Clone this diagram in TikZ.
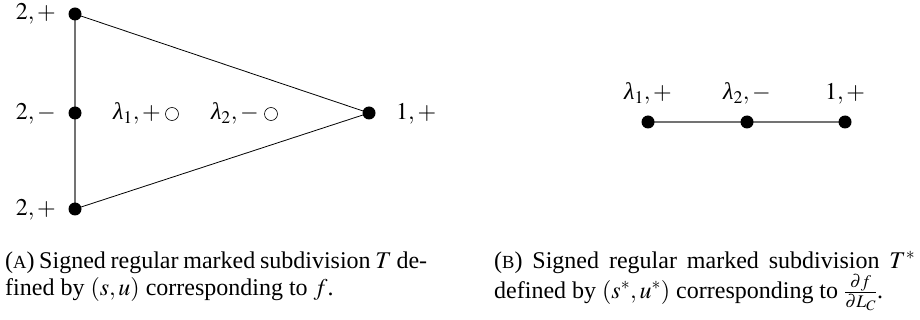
\documentclass[tikz,border=0pt]{standalone}
\usepackage{mathptmx}
\usepackage[no-math]{fontspec}
\setmainfont{Liberation Serif}
\newcommand{\lam}{\mbox{\itshape λ}}
\begin{document}
\begin{tikzpicture}[x=1pt,y=-1pt,
  dot/.style={circle,fill=black,inner sep=0pt,minimum size=13pt},
  odot/.style={circle,draw=black,line width=0.6pt,fill=white,inner sep=0pt,minimum size=13pt},
  lbl/.style={inner sep=0pt,font=\fontsize{24}{28}\selectfont},
  capnode/.style={inner sep=0pt,anchor=base west,font=\fontsize{24}{28}\selectfont},
  grayedge/.style={draw=black!55,line width=1.3pt},
  blackedge/.style={draw=black,line width=0.8pt}]
\useasboundingbox (0,0) rectangle (920,320);
% left triangle
\coordinate (tl) at (75,14);
\coordinate (ml) at (75,113);
\coordinate (bl) at (75,209);
\coordinate (r) at (369,113);
\draw[grayedge] (tl) -- (ml) -- (bl);
\draw[blackedge] (tl) -- (r) -- (bl);
\node[dot] (ntl) at (tl) {};
\node[dot] (nml) at (ml) {};
\node[dot] (nbl) at (bl) {};
\node[dot] (nr) at (r) {};
\node[odot] (c1) at (172,114) {};
\node[odot] (c2) at (271,114) {};
\node[lbl,anchor=base east] (ltl) at (56,20) {$2,+$};
\node[lbl,anchor=base east] (lml) at (56,120) {$2,-$};
\node[lbl,anchor=base east] (lbl) at (56,216) {$2,+$};
\node[lbl,anchor=base west] (lr) at (396,120) {$1,+$};
\node[lbl,anchor=base east] (lc1) at (161,120) {$\lam_1,+$};
\node[lbl,anchor=base east] (lc2) at (259,120) {$\lam_2,-$};
% right segment
\coordinate (p1) at (648,122);
\coordinate (p2) at (747,122);
\coordinate (p3) at (845,122);
\draw[grayedge,line width=1.1pt] (p1) -- (p2) -- (p3);
\node[dot] (np1) at (p1) {};
\node[dot] (np2) at (p2) {};
\node[dot] (np3) at (p3) {};
\node[lbl,anchor=base] (lp1) at (648,100) {$\lam_1,+$};
\node[lbl,anchor=base] (lp2) at (747,100) {$\lam_2,-$};
\node[lbl,anchor=base] (lp3) at (845,100) {$1,+$};
% captions
\node[capnode] (capA) at (5,268) {\parbox[t]{422pt}{\noindent\hbox to 422pt{({\fontsize{18.5}{20}\selectfont A}) Signed regular marked subdivision $T$ de-}\\fined by $(s,u)$ corresponding to $f$.}};
\node[capnode] (capB) at (494,268) {\parbox[t]{421pt}{\noindent\hbox to 421pt{({\fontsize{18.5}{20}\selectfont B}) Signed regular marked subdivision $T^{*}$}\\defined by $(s^{*},u^{*})$ corresponding to $\frac{\partial f}{\partial L_C}$.}};
\end{tikzpicture}
\end{document}
